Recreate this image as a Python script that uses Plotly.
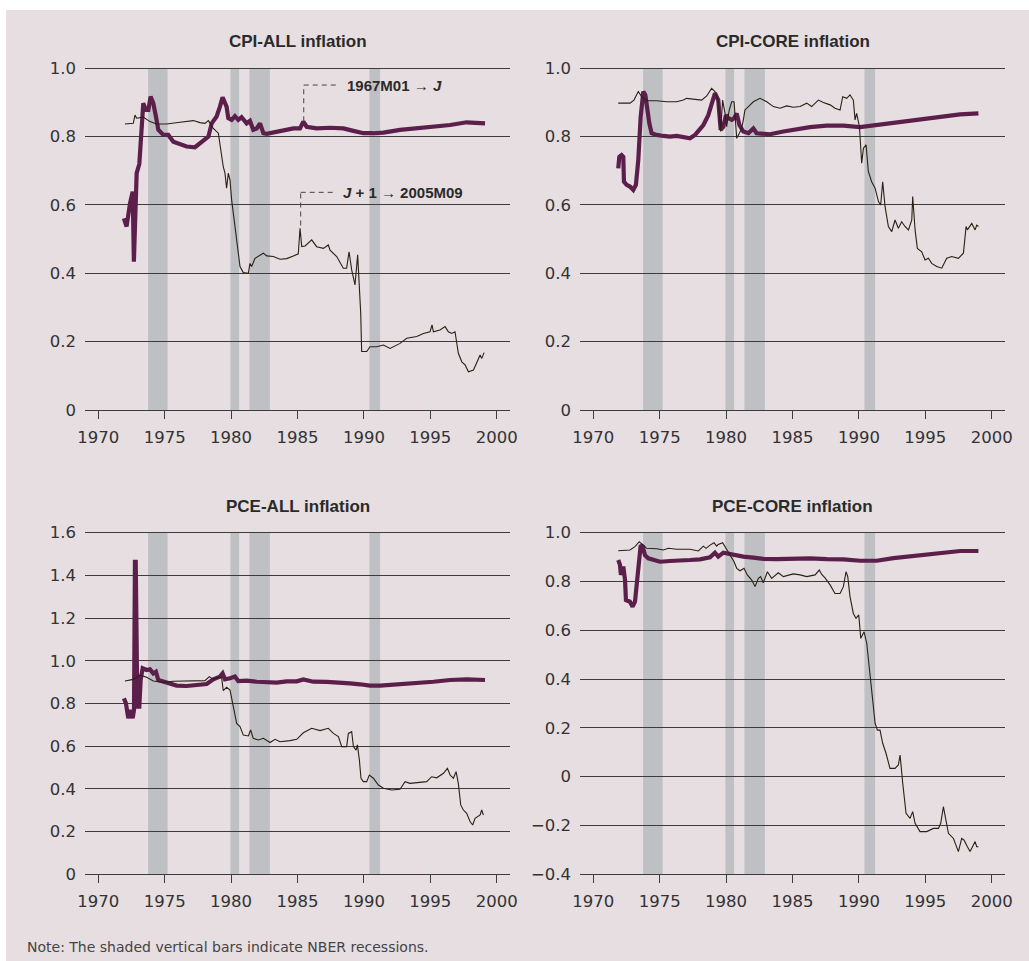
import plotly.graph_objects as go

# ---------------- DATA ----------------
recessions = [(1973.75, 1975.22), (1979.95, 1980.6), (1981.38, 1982.92), (1990.42, 1991.22)]

# CPI-ALL : thick = 1967M01 -> J, thin = J+1 -> 2005M09
cpi_all_thick_x = [1971.93, 1972.13, 1972.39, 1972.59, 1972.68, 1972.78, 1972.89, 1973.09, 1973.26, 1973.39,
                   1973.57, 1973.77, 1973.94, 1974.14, 1974.34, 1974.52, 1974.90, 1975.27, 1975.65, 1976.15,
                   1976.65, 1977.28, 1977.66, 1978.03, 1978.29, 1978.54, 1978.91, 1979.16, 1979.36, 1979.66,
                   1979.79, 1980.04, 1980.29, 1980.54, 1980.79, 1981.17, 1981.42, 1981.67, 1981.93, 1982.18,
                   1982.43, 1982.68, 1983.18, 1983.93, 1984.69, 1985.19, 1985.44, 1985.69, 1986.44, 1987.45,
                   1988.45, 1989.21, 1989.96, 1990.71, 1991.47, 1992.72, 1993.98, 1995.23, 1996.49, 1997.74,
                   1998.50, 1999.12]
cpi_all_thick_y = [0.561, 0.537, 0.605, 0.639, 0.434, 0.600, 0.693, 0.720, 0.849, 0.898,
                   0.878, 0.878, 0.917, 0.898, 0.859, 0.820, 0.805, 0.805, 0.785, 0.779,
                   0.771, 0.769, 0.780, 0.790, 0.800, 0.839, 0.859, 0.888, 0.915, 0.888,
                   0.854, 0.849, 0.860, 0.849, 0.857, 0.839, 0.846, 0.820, 0.824, 0.839,
                   0.810, 0.808, 0.812, 0.820, 0.824, 0.824, 0.844, 0.829, 0.824, 0.826,
                   0.824, 0.817, 0.810, 0.810, 0.812, 0.820, 0.824, 0.829, 0.834, 0.842,
                   0.839, 0.839]
cpi_all_thin_x = [1972.01, 1972.64, 1972.76, 1972.89, 1973.39, 1973.89, 1974.39, 1975.15, 1976.15, 1977.16,
                  1977.66, 1978.03, 1978.29, 1978.66, 1979.04, 1979.21, 1979.41, 1979.54, 1979.66, 1979.79,
                  1979.92, 1980.04, 1980.29, 1980.47, 1980.67, 1980.92, 1981.30, 1981.42, 1981.55, 1981.80,
                  1982.18, 1982.43, 1982.68, 1983.18, 1983.68, 1984.19, 1984.69, 1985.06, 1985.19, 1985.32,
                  1985.57, 1986.07, 1986.44, 1986.95, 1987.32, 1987.45, 1987.95, 1988.45, 1988.70, 1988.88,
                  1989.08, 1989.33, 1989.53, 1989.66, 1989.76, 1989.83, 1990.21, 1990.46, 1990.96, 1991.47,
                  1991.97, 1992.72, 1993.22, 1993.98, 1994.48, 1994.98, 1995.13, 1995.23, 1995.73, 1996.11,
                  1996.36, 1996.61, 1996.86, 1997.11, 1997.37, 1997.62, 1997.87, 1998.25, 1998.50, 1998.75,
                  1998.87, 1999.05]
cpi_all_thin_y = [0.837, 0.839, 0.863, 0.854, 0.857, 0.844, 0.837, 0.837, 0.842, 0.847,
                  0.841, 0.839, 0.847, 0.824, 0.810, 0.761, 0.712, 0.693, 0.649, 0.693,
                  0.673, 0.615, 0.537, 0.498, 0.420, 0.402, 0.400, 0.429, 0.420, 0.444,
                  0.454, 0.459, 0.451, 0.449, 0.441, 0.443, 0.451, 0.457, 0.532, 0.478,
                  0.480, 0.498, 0.478, 0.473, 0.483, 0.468, 0.449, 0.415, 0.415, 0.463,
                  0.410, 0.366, 0.454, 0.351, 0.283, 0.171, 0.171, 0.185, 0.185, 0.190,
                  0.180, 0.195, 0.210, 0.215, 0.224, 0.229, 0.249, 0.229, 0.234, 0.244,
                  0.229, 0.224, 0.229, 0.166, 0.141, 0.132, 0.112, 0.117, 0.141, 0.161,
                  0.151, 0.168]

# CPI-CORE
cpi_core_thick_x = [1971.88, 1971.96, 1972.13, 1972.26, 1972.31, 1972.51, 1972.76, 1973.01, 1973.21, 1973.39,
                    1973.57, 1973.77, 1973.92, 1974.07, 1974.22, 1974.39, 1974.77, 1975.27, 1975.77, 1976.28,
                    1976.78, 1977.28, 1977.66, 1977.91, 1978.29, 1978.66, 1978.91, 1979.16, 1979.41, 1979.59,
                    1979.79, 1979.99, 1980.17, 1980.42, 1980.60, 1980.80, 1981.00, 1981.30, 1981.68, 1982.05,
                    1982.30, 1982.80, 1983.31, 1984.31, 1985.32, 1986.32, 1987.57, 1988.83, 1990.09, 1991.34,
                    1992.60, 1993.85, 1995.11, 1996.36, 1997.62, 1999.00]
cpi_core_thick_y = [0.707, 0.741, 0.746, 0.741, 0.668, 0.659, 0.654, 0.644, 0.659, 0.732,
                    0.859, 0.932, 0.922, 0.868, 0.839, 0.810, 0.805, 0.802, 0.800, 0.802,
                    0.800, 0.795, 0.805, 0.815, 0.834, 0.863, 0.898, 0.927, 0.907, 0.820,
                    0.829, 0.863, 0.854, 0.849, 0.854, 0.868, 0.834, 0.815, 0.810, 0.824,
                    0.810, 0.808, 0.807, 0.815, 0.822, 0.828, 0.832, 0.832, 0.828, 0.834,
                    0.843, 0.849, 0.854, 0.859, 0.865, 0.868]
cpi_core_thin_x = [1971.88, 1972.76, 1973.06, 1973.39, 1973.64, 1974.02, 1974.77, 1975.52, 1976.28, 1976.78,
                   1977.03, 1977.78, 1978.16, 1978.54, 1978.91, 1979.16, 1979.41, 1979.59, 1979.74, 1979.92,
                   1980.04, 1980.24, 1980.42, 1980.60, 1980.80, 1981.00, 1981.17, 1981.30, 1981.42, 1981.68,
                   1982.05, 1982.55, 1983.06, 1983.56, 1984.06, 1984.56, 1985.06, 1985.57, 1986.07, 1986.44,
                   1986.95, 1987.32, 1987.83, 1988.20, 1988.58, 1988.78, 1989.08, 1989.33, 1989.58, 1989.71,
                   1989.83, 1990.04, 1990.21, 1990.34, 1990.54, 1990.71, 1990.96, 1991.22, 1991.47, 1991.64,
                   1991.79, 1991.97, 1992.22, 1992.47, 1992.72, 1992.97, 1993.22, 1993.47, 1993.73, 1993.98,
                   1994.05, 1994.23, 1994.40, 1994.73, 1994.98, 1995.23, 1995.48, 1995.86, 1996.24, 1996.61,
                   1996.99, 1997.49, 1997.87, 1998.07, 1998.17, 1998.50, 1998.75, 1998.87, 1999.00]
cpi_core_thin_y = [0.898, 0.898, 0.907, 0.932, 0.917, 0.905, 0.905, 0.902, 0.902, 0.907,
                   0.912, 0.910, 0.907, 0.919, 0.941, 0.932, 0.907, 0.815, 0.907, 0.868,
                   0.829, 0.878, 0.902, 0.902, 0.795, 0.810, 0.824, 0.849, 0.878, 0.888,
                   0.902, 0.912, 0.902, 0.888, 0.883, 0.890, 0.886, 0.888, 0.898, 0.888,
                   0.907, 0.900, 0.893, 0.883, 0.878, 0.917, 0.912, 0.922, 0.907, 0.849,
                   0.868, 0.829, 0.722, 0.766, 0.776, 0.698, 0.668, 0.649, 0.610, 0.600,
                   0.668, 0.595, 0.537, 0.522, 0.556, 0.532, 0.551, 0.537, 0.527, 0.556,
                   0.625, 0.527, 0.473, 0.463, 0.439, 0.444, 0.429, 0.420, 0.415, 0.444,
                   0.449, 0.444, 0.459, 0.537, 0.527, 0.546, 0.527, 0.541, 0.537]

# PCE-ALL
pce_all_thick_x = [1971.93, 1972.08, 1972.26, 1972.44, 1972.59, 1972.69, 1972.76, 1972.82, 1972.94, 1973.09,
                   1973.19, 1973.34, 1973.64, 1973.89, 1974.14, 1974.34, 1974.52, 1974.90, 1975.40, 1975.90,
                   1976.65, 1977.41, 1978.16, 1978.66, 1979.16, 1979.36, 1979.54, 1979.92, 1980.29, 1980.54,
                   1981.17, 1981.93, 1982.68, 1983.43, 1984.19, 1984.94, 1985.44, 1986.19, 1987.20, 1988.20,
                   1988.96, 1989.71, 1990.46, 1991.22, 1991.97, 1992.72, 1993.98, 1995.23, 1996.49, 1997.74,
                   1999.12]
pce_all_thick_y = [0.824, 0.801, 0.731, 0.770, 0.731, 0.770, 1.464, 1.464, 0.785, 0.785,
                   0.910, 0.965, 0.957, 0.960, 0.941, 0.949, 0.910, 0.902, 0.891, 0.884,
                   0.882, 0.887, 0.891, 0.913, 0.926, 0.941, 0.913, 0.918, 0.926, 0.905,
                   0.907, 0.902, 0.898, 0.898, 0.904, 0.904, 0.913, 0.902, 0.901, 0.899,
                   0.894, 0.890, 0.884, 0.884, 0.887, 0.894, 0.898, 0.902, 0.910, 0.913,
                   0.910]
pce_all_thin_x = [1972.01, 1972.64, 1973.14, 1973.64, 1974.14, 1974.90, 1975.65, 1976.65, 1977.66, 1978.03,
                  1978.36, 1978.66, 1979.04, 1979.29, 1979.41, 1979.66, 1979.92, 1980.17, 1980.42, 1980.67,
                  1980.92, 1981.30, 1981.47, 1981.67, 1982.05, 1982.43, 1982.93, 1983.31, 1983.68, 1984.44,
                  1984.94, 1985.44, 1986.07, 1986.70, 1987.32, 1987.70, 1988.08, 1988.33, 1988.70, 1988.83,
                  1989.08, 1989.21, 1989.41, 1989.51, 1989.66, 1989.78, 1989.96, 1990.21, 1990.41, 1990.71,
                  1991.09, 1991.47, 1992.09, 1992.72, 1993.10, 1993.47, 1994.23, 1994.73, 1995.10, 1995.48,
                  1995.99, 1996.29, 1996.49, 1996.74, 1996.94, 1997.11, 1997.29, 1997.49, 1997.74, 1997.99,
                  1998.19, 1998.37, 1998.75, 1998.87, 1999.00]
pce_all_thin_y = [0.905, 0.913, 0.933, 0.923, 0.905, 0.899, 0.904, 0.905, 0.907, 0.907,
                  0.926, 0.913, 0.923, 0.920, 0.860, 0.876, 0.863, 0.785, 0.707, 0.692,
                  0.652, 0.648, 0.676, 0.637, 0.629, 0.637, 0.617, 0.632, 0.621, 0.626,
                  0.632, 0.663, 0.684, 0.673, 0.684, 0.660, 0.645, 0.598, 0.598, 0.660,
                  0.668, 0.598, 0.582, 0.606, 0.535, 0.450, 0.434, 0.434, 0.465, 0.450,
                  0.418, 0.403, 0.395, 0.398, 0.434, 0.426, 0.429, 0.434, 0.457, 0.452,
                  0.473, 0.496, 0.465, 0.450, 0.481, 0.426, 0.325, 0.301, 0.286, 0.247,
                  0.231, 0.262, 0.278, 0.301, 0.278]

# PCE-CORE
pce_core_thick_x = [1971.88, 1972.01, 1972.08, 1972.26, 1972.39, 1972.46, 1972.76, 1972.96, 1973.14, 1973.26,
                    1973.39, 1973.57, 1973.72, 1973.89, 1974.14, 1974.52, 1975.02, 1975.77, 1976.53, 1977.28,
                    1978.03, 1978.79, 1979.16, 1979.41, 1979.79, 1980.29, 1980.80, 1981.30, 1982.05, 1982.80,
                    1983.81, 1985.06, 1986.32, 1987.57, 1988.83, 1990.09, 1990.84, 1991.34, 1992.60, 1993.85,
                    1995.11, 1996.36, 1997.62, 1999.00]
pce_core_thick_y = [0.888, 0.868, 0.827, 0.861, 0.806, 0.724, 0.717, 0.697, 0.717, 0.779,
                    0.861, 0.949, 0.943, 0.908, 0.895, 0.888, 0.881, 0.884, 0.884, 0.888,
                    0.891, 0.899, 0.918, 0.902, 0.918, 0.913, 0.906, 0.902, 0.898, 0.893,
                    0.892, 0.895, 0.895, 0.892, 0.891, 0.885, 0.883, 0.885, 0.896, 0.904,
                    0.913, 0.918, 0.925, 0.925]
pce_core_thin_x = [1971.88, 1972.76, 1973.14, 1973.46, 1973.77, 1974.02, 1974.77, 1975.27, 1975.65, 1976.28,
                   1977.28, 1977.91, 1978.29, 1978.49, 1978.79, 1979.09, 1979.29, 1979.41, 1979.74, 1979.99,
                   1980.29, 1980.60, 1980.80, 1981.05, 1981.35, 1981.60, 1981.93, 1982.18, 1982.43, 1982.60,
                   1982.80, 1983.11, 1983.43, 1983.93, 1984.31, 1985.06, 1985.57, 1986.07, 1986.70, 1987.02,
                   1987.20, 1987.45, 1987.83, 1988.20, 1988.58, 1988.83, 1989.03, 1989.16, 1989.33, 1989.58,
                   1989.78, 1989.99, 1990.14, 1990.39, 1990.59, 1990.79, 1990.96, 1991.22, 1991.39, 1991.59,
                   1991.79, 1992.04, 1992.34, 1992.72, 1992.97, 1993.10, 1993.30, 1993.55, 1993.85, 1994.05,
                   1994.23, 1994.60, 1995.11, 1995.61, 1995.99, 1996.16, 1996.36, 1996.61, 1996.74, 1997.12,
                   1997.49, 1997.74, 1997.92, 1998.17, 1998.37, 1998.62, 1998.75, 1998.87, 1999.00]
pce_core_thin_y = [0.926, 0.929, 0.943, 0.963, 0.949, 0.936, 0.934, 0.929, 0.936, 0.932,
                   0.932, 0.925, 0.945, 0.936, 0.949, 0.959, 0.945, 0.952, 0.959, 0.936,
                   0.908, 0.881, 0.854, 0.844, 0.854, 0.827, 0.806, 0.779, 0.813, 0.820,
                   0.795, 0.840, 0.813, 0.836, 0.820, 0.831, 0.827, 0.820, 0.827, 0.847,
                   0.829, 0.815, 0.786, 0.751, 0.751, 0.779, 0.840, 0.820, 0.738, 0.669,
                   0.649, 0.663, 0.567, 0.594, 0.547, 0.451, 0.369, 0.219, 0.191, 0.191,
                   0.137, 0.096, 0.034, 0.034, 0.048, 0.089, -0.027, -0.150, -0.171, -0.143,
                   -0.191, -0.225, -0.225, -0.212, -0.212, -0.191, -0.123, -0.191, -0.232, -0.253,
                   -0.307, -0.253, -0.260, -0.287, -0.307, -0.280, -0.266, -0.287, -0.287]

titles = ["CPI-ALL inflation", "CPI-CORE inflation", "PCE-ALL inflation", "PCE-CORE inflation"]
ytick_vals = [[0, 0.2, 0.4, 0.6, 0.8, 1.0],
              [0, 0.2, 0.4, 0.6, 0.8, 1.0],
              [0, 0.2, 0.4, 0.6, 0.8, 1.0, 1.2, 1.4, 1.6],
              [-0.4, -0.2, 0, 0.2, 0.4, 0.6, 0.8, 1.0]]
ytick_text = [["0", "0.2", "0.4", "0.6", "0.8", "1.0"],
              ["0", "0.2", "0.4", "0.6", "0.8", "1.0"],
              ["0", "0.2", "0.4", "0.6", "0.8", "1.0", "1.2", "1.4", "1.6"],
              ["\u22120.4", "\u22120.2", "0", "0.2", "0.4", "0.6", "0.8", "1.0"]]
xtick_vals = [1970, 1975, 1980, 1985, 1990, 1995, 2000]
note_text = "Note: The shaded vertical bars indicate NBER recessions."
annot1_text = "1967M01 \u2192 <i>J</i>"
annot2_text = "<i>J</i> + 1 \u2192 2005M09"

# ---------------- STYLE ----------------
W, H = 1029, 961
BG = "#e6dee1"
REC = "#bfc0c4"
PURPLE = "#5c1f4c"
THIN = "#2a2013"
GRID = "#3c3c3c"
TXT = "#333333"

def px_x(p):
    return p / W

def px_y(p):
    return 1 - p / H

# panel pixel boxes (left, right, top, bottom)
boxes = [(85, 510, 68.3, 410), (580, 1005, 68.3, 410),
         (85, 510, 532.7, 874.3), (580, 1005, 532.7, 874.3)]
yranges = [[0, 1.0], [0, 1.0], [0, 1.6], [-0.4, 1.0]]

series = [
    (cpi_all_thick_x, cpi_all_thick_y, cpi_all_thin_x, cpi_all_thin_y),
    (cpi_core_thick_x, cpi_core_thick_y, cpi_core_thin_x, cpi_core_thin_y),
    (pce_all_thick_x, pce_all_thick_y, pce_all_thin_x, pce_all_thin_y),
    (pce_core_thick_x, pce_core_thick_y, pce_core_thin_x, pce_core_thin_y),
]

fig = go.Figure()
shapes = []
annotations = []

# white strips at the very top and left edge of the pink page
shapes.append(dict(type="rect", xref="paper", yref="paper", x0=-0.01, x1=1.01, y0=px_y(10), y1=1.01,
                   fillcolor="white", line=dict(width=0), layer="below"))
shapes.append(dict(type="rect", xref="paper", yref="paper", x0=-0.01, x1=px_x(6), y0=-0.01, y1=1.01,
                   fillcolor="white", line=dict(width=0), layer="below"))

TICKFONT = dict(family="DejaVu Sans", size=16.5, color=TXT)

for i, (l, r, t, b) in enumerate(boxes):
    n = "" if i == 0 else str(i + 1)
    xa, ya = "x" + n, "y" + n
    tx, ty, nx, ny = series[i]
    fig.add_trace(go.Scatter(x=tx, y=ty, mode="lines", xaxis=xa, yaxis=ya,
                             line=dict(color=PURPLE, width=4.2), showlegend=False, hoverinfo="skip"))
    fig.add_trace(go.Scatter(x=nx, y=ny, mode="lines", xaxis=xa, yaxis=ya,
                             line=dict(color=THIN, width=1.1), showlegend=False, hoverinfo="skip"))
    lo, hi = yranges[i]
    pad = (hi - lo) * 0.004
    layout_x = dict(domain=[px_x(l), px_x(r)], range=[1969, 2001], anchor=ya,
                    tickvals=xtick_vals, ticks="outside", ticklen=8, tickwidth=1, tickcolor=GRID,
                    showline=True, linecolor=GRID, linewidth=1, showgrid=False, zeroline=False,
                    tickfont=TICKFONT, ticklabelstandoff=4, fixedrange=True, automargin=False)
    layout_y = dict(domain=[px_y(b), px_y(t) + 0.004 * (b - t) / H], range=[lo, hi + pad],
                    anchor=xa, tickvals=ytick_vals[i], ticktext=ytick_text[i], ticks="",
                    showgrid=True, gridcolor=GRID, gridwidth=1, showline=False,
                    zeroline=(i == 3), zerolinecolor=GRID, zerolinewidth=1,
                    tickfont=TICKFONT, ticklabelstandoff=8, fixedrange=True, automargin=False)
    fig.layout["xaxis" + n] = layout_x
    fig.layout["yaxis" + n] = layout_y
    for (a, c) in recessions:
        shapes.append(dict(type="rect", xref=xa, yref=ya, x0=a, x1=c, y0=lo, y1=hi,
                           fillcolor=REC, line=dict(width=0), layer="below"))
    annotations.append(dict(text="<b>" + titles[i] + "</b>", xref="paper", yref="paper",
                            x=px_x((l + r) / 2), y=px_y(t - 26.6 if i < 2 else t - 26),
                            xanchor="center", yanchor="middle", showarrow=False,
                            font=dict(family="Liberation Sans", size=17, color="#2a2a2a")))

# bracket annotations in CPI-ALL panel
dash = dict(color="#444444", width=1, dash="5px,4px")
shapes += [
    dict(type="line", xref="x", yref="y", x0=1985.47, x1=1985.47, y0=0.845, y1=0.951, line=dash),
    dict(type="line", xref="x", yref="y", x0=1985.47, x1=1988.05, y0=0.951, y1=0.951, line=dash),
    dict(type="line", xref="x", yref="y", x0=1985.24, x1=1985.24, y0=0.54, y1=0.637, line=dash),
    dict(type="line", xref="x", yref="y", x0=1985.24, x1=1987.83, y0=0.637, y1=0.637, line=dash),
]
annotations += [
    dict(text="<b>" + annot1_text + "</b>", xref="x", yref="y", x=1988.6, y=0.951,
         xanchor="left", yanchor="middle", showarrow=False,
         font=dict(family="Liberation Sans", size=15, color="#2a2a2a")),
    dict(text="<b>" + annot2_text + "</b>", xref="x", yref="y", x=1988.25, y=0.637,
         xanchor="left", yanchor="middle", showarrow=False,
         font=dict(family="Liberation Sans", size=15, color="#2a2a2a")),
    dict(text=note_text, xref="paper", yref="paper", x=px_x(25), y=px_y(946.5),
         xanchor="left", yanchor="middle", showarrow=False,
         font=dict(family="DejaVu Sans", size=14, color="#444444")),
]

fig.update_layout(width=W, height=H, autosize=False, margin=dict(l=0, r=0, t=0, b=0, pad=0, autoexpand=False),
                  paper_bgcolor=BG, plot_bgcolor="rgba(0,0,0,0)",
                  shapes=shapes, annotations=annotations, showlegend=False)

fig.write_html("out.html", config={"displayModeBar": False, "responsive": False},
               post_script="document.body.style.margin='0';document.body.style.padding='0';"
                           "document.body.style.background='#e6dee1';"
                           "document.documentElement.style.overflow='hidden';")
